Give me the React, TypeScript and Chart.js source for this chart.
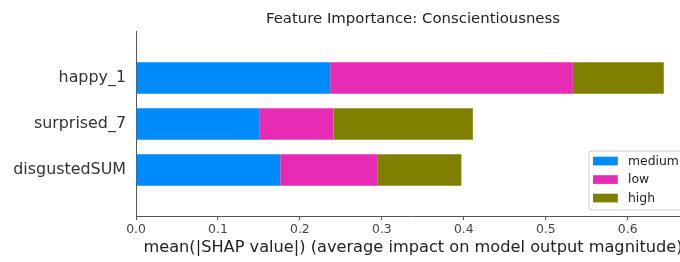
import React, { useEffect, useRef } from "react";
import { Chart, registerables } from "chart.js";

Chart.register(...registerables);

const TITLE = "Feature Importance: Conscientiousness";
const X_LABEL = "mean(|SHAP value|) (average impact on model output magnitude)";
const FEATURES = ["happy_1", "surprised_7", "disgustedSUM"];
const CLASSES = ["medium", "low", "high"];
const MEDIUM = [0.237, 0.151, 0.176];
const LOW = [0.296, 0.09, 0.119];
const HIGH = [0.111, 0.17, 0.102];
const X_TICKS = [0, 0.1, 0.2, 0.3, 0.4, 0.5, 0.6];
const X_MAX = 0.676;
const COLORS = ["#008bfb", "#e82bb4", "#808000"];

const FONT = '"DejaVu Sans", sans-serif';

const legendPlugin = {
  id: "mplLegend",
  afterDraw(chart: any) {
    const { ctx, chartArea } = chart;
    const fs = 12.4;
    const w = 96;
    const h = 59;
    const x = chartArea.right - 5 - w;
    const y = chartArea.bottom - 6 - h;
    const r = 3;
    ctx.save();
    ctx.beginPath();
    ctx.moveTo(x + r, y);
    ctx.lineTo(x + w - r, y);
    ctx.quadraticCurveTo(x + w, y, x + w, y + r);
    ctx.lineTo(x + w, y + h - r);
    ctx.quadraticCurveTo(x + w, y + h, x + w - r, y + h);
    ctx.lineTo(x + r, y + h);
    ctx.quadraticCurveTo(x, y + h, x, y + h - r);
    ctx.lineTo(x, y + r);
    ctx.quadraticCurveTo(x, y, x + r, y);
    ctx.closePath();
    ctx.fillStyle = "rgba(255,255,255,0.8)";
    ctx.fill();
    ctx.strokeStyle = "#cccccc";
    ctx.lineWidth = 1;
    ctx.stroke();
    chart.data.datasets.forEach((ds: any, i: number) => {
      const cy = y + 10 + i * 18.5;
      ctx.fillStyle = ds.backgroundColor;
      ctx.fillRect(x + 4, cy - 4.3, 24.8, 8.7);
      ctx.fillStyle = "#222";
      ctx.font = `${fs}px ${FONT}`;
      ctx.textBaseline = "middle";
      ctx.textAlign = "left";
      ctx.fillText(ds.label, x + 39, cy + 0.5);
    });
    ctx.restore();
  },
};

export default function App() {
  const ref = useRef<HTMLCanvasElement | null>(null);

  useEffect(() => {
    if (!ref.current) return;
    const series = [MEDIUM, LOW, HIGH];
    const chart = new Chart(ref.current, {
      type: "bar",
      data: {
        datasets: CLASSES.map((c, k) => ({
          label: c,
          data: series[k].map((v, i) => ({ x: v, y: i + 1 })),
          backgroundColor: COLORS[k],
          borderWidth: 0,
          stack: "s",
          barPercentage: 0.68,
          categoryPercentage: 1,
        })),
      },
      options: {
        indexAxis: "y",
        responsive: false,
        animation: false,
        devicePixelRatio: 1,
        layout: { padding: 0 },
        plugins: {
          legend: { display: false },
          tooltip: { enabled: false },
          title: {
            display: true,
            text: TITLE,
            fullSize: false,
            color: "#222",
            font: { family: FONT, size: 14.9, weight: "normal" },
            padding: { top: 10.6, bottom: 3.5 },
          },
        },
        scales: {
          x: {
            type: "linear",
            min: 0,
            max: X_MAX,
            stacked: true,
            afterBuildTicks: (scale: any) => {
              scale.ticks = X_TICKS.map((v) => ({ value: v }));
            },
            afterFit: (scale: any) => {
              scale.height = 46;
            },
            grid: {
              display: true,
              drawOnChartArea: false,
              drawTicks: true,
              tickLength: 4,
              color: "#555",
            },
            border: { display: true, color: "#555", width: 1 },
            ticks: {
              padding: 2.3,
              color: "#444",
              font: { family: FONT, size: 12.4 },
              maxRotation: 0,
              autoSkip: false,
              callback: (v: any) => Number(v).toFixed(1),
            },
            title: {
              display: true,
              text: X_LABEL,
              color: "#222",
              font: { family: FONT, size: 16.2 },
              padding: { top: 0, bottom: 4.9 },
            },
          },
          y: {
            type: "linear",
            min: 0,
            max: FEATURES.length + 1,
            reverse: true,
            offset: false,
            afterBuildTicks: (scale: any) => {
              scale.ticks = FEATURES.map((_, i) => ({ value: i + 1 }));
            },
            afterFit: (scale: any) => {
              scale.width = 136;
            },
            grid: { display: false, drawTicks: false, offset: false },
            border: { display: true, color: "#555", width: 1 },
            ticks: {
              padding: 10,
              color: "#333",
              font: { family: FONT, size: 15.9 },
              autoSkip: false,
              callback: (v: any) => FEATURES[Number(v) - 1] ?? "",
            },
          },
        },
      },
      plugins: [legendPlugin],
    } as any);
    return () => chart.destroy();
  }, []);

  return (
    <div
      style={{
        position: "absolute",
        left: 0,
        top: 0,
        width: 680,
        height: 262,
        overflow: "hidden",
        background: "#fff",
      }}
    >
      <canvas ref={ref} width={690} height={262} style={{ display: "block" }} />
    </div>
  );
}
